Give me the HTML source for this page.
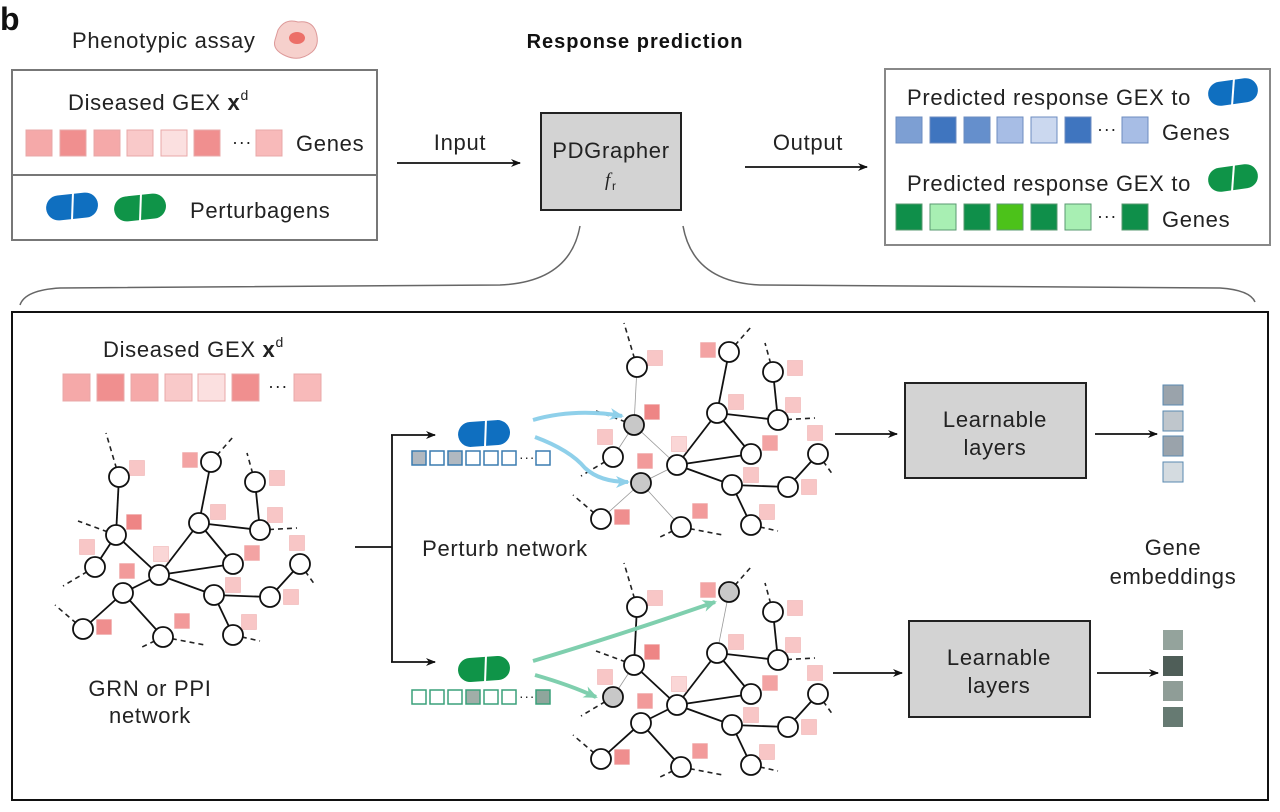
<!DOCTYPE html>
<html><head><meta charset="utf-8"><style>
html,body{margin:0;padding:0;background:#fff;}
svg{display:block;font-family:"Liberation Sans",sans-serif;}
text{letter-spacing:0.7px;}
</style></head><body>
<svg id="s" width="1280" height="812" viewBox="0 0 1280 812" xmlns="http://www.w3.org/2000/svg">
<defs>
<marker id="ah" markerWidth="10" markerHeight="10" refX="9" refY="5" orient="auto" markerUnits="userSpaceOnUse"><path d="M0,1 L10,5 L0,9 L3,5Z" fill="#111"/></marker>
<marker id="bh" markerWidth="14" markerHeight="12" refX="12" refY="6" orient="auto" markerUnits="userSpaceOnUse"><path d="M0,0 L14,6 L0,12 L4,6Z" fill="#8fd0ea"/></marker>
<marker id="gh" markerWidth="14" markerHeight="12" refX="12" refY="6" orient="auto" markerUnits="userSpaceOnUse"><path d="M0,0 L14,6 L0,12 L4,6Z" fill="#7fcfae"/></marker>
</defs>
<text x="0" y="30" font-size="32" font-weight="bold" fill="#111">b</text>
<text x="72" y="48" font-size="22" fill="#222">Phenotypic assay</text>
<path d="M278,30 Q285,18 298,22 Q312,20 316,32 Q320,45 312,52 Q300,62 286,56 Q272,50 275,40Z" fill="#f6d0cc" stroke="#d99" stroke-width="1"/>
<ellipse cx="297" cy="38" rx="8" ry="6" fill="#ec6f68"/>
<text x="635" y="48" font-size="20" font-weight="bold" text-anchor="middle" fill="#111" style="letter-spacing:1px">Response prediction</text>

<rect x="12" y="70" width="365" height="170" fill="none" stroke="#777" stroke-width="2"/>
<line x1="12" y1="175" x2="377" y2="175" stroke="#777" stroke-width="2"/>
<text x="68" y="110" font-size="22" fill="#222">Diseased GEX <tspan font-weight="bold">x</tspan><tspan font-size="14" dy="-10">d</tspan></text>
<g stroke="#e8a8a8" stroke-width="1">
<rect x="26" y="130" width="26" height="26" fill="#f5a9a9"/><rect x="60" y="130" width="26" height="26" fill="#f08f8f"/><rect x="94" y="130" width="26" height="26" fill="#f5a9a9"/><rect x="127" y="130" width="26" height="26" fill="#f9c9c9"/><rect x="161" y="130" width="26" height="26" fill="#fbe0e0"/><rect x="194" y="130" width="26" height="26" fill="#f08f8f"/><rect x="256" y="130" width="26" height="26" fill="#f8baba"/></g>
<text x="232" y="148" font-size="18" fill="#222">···</text>
<text x="296" y="151" font-size="22" fill="#222">Genes</text>
<g><rect x="46" y="194" width="52" height="25" rx="12.5" fill="#0f6fc0" transform="rotate(-6 72 206)"/><line x1="73" y1="192" x2="72" y2="220" stroke="#fff" stroke-width="2"/>
<rect x="114" y="195" width="52" height="25" rx="12.5" fill="#0f9448" transform="rotate(-6 140 207)"/><line x1="141" y1="193" x2="140" y2="221" stroke="#fff" stroke-width="2"/></g>
<text x="190" y="218" font-size="22" fill="#222">Perturbagens</text>

<line x1="397" y1="163" x2="520" y2="163" stroke="#111" stroke-width="1.8" marker-end="url(#ah)"/>
<text x="460" y="150" font-size="22" text-anchor="middle" fill="#222">Input</text>
<rect x="541" y="113" width="140" height="97" fill="#d3d3d3" stroke="#222" stroke-width="2"/>
<text x="611" y="158" font-size="22" text-anchor="middle" fill="#222">PDGrapher</text>
<text x="605" y="186" font-size="19" font-style="italic" font-family="Liberation Serif" fill="#222">f</text><text x="612" y="190" font-size="12" fill="#222">r</text>
<line x1="745" y1="167" x2="867" y2="167" stroke="#111" stroke-width="1.8" marker-end="url(#ah)"/>
<text x="808" y="150" font-size="22" text-anchor="middle" fill="#222">Output</text>

<rect x="885" y="69" width="385" height="176" fill="none" stroke="#888" stroke-width="2"/>
<text x="907" y="105" font-size="22" fill="#222">Predicted response GEX to</text>
<rect x="1208" y="80" width="50" height="24" rx="12" fill="#0f6fc0" transform="rotate(-8 1233 92)"/><line x1="1234" y1="78" x2="1232" y2="106" stroke="#fff" stroke-width="2"/>
<g stroke="#6c8cc0" stroke-width="1"><rect x="896" y="117" width="26" height="26" fill="#7d9fd3"/><rect x="930" y="117" width="26" height="26" fill="#3f75bf"/><rect x="964" y="117" width="26" height="26" fill="#658fcc"/><rect x="997" y="117" width="26" height="26" fill="#a7bde5"/><rect x="1031" y="117" width="26" height="26" fill="#cbd8ef"/><rect x="1065" y="117" width="26" height="26" fill="#3f75bf"/><rect x="1122" y="117" width="26" height="26" fill="#a7bde5"/></g>
<text x="1097" y="135" font-size="18" fill="#222">···</text>
<text x="1162" y="140" font-size="22" fill="#222">Genes</text>
<text x="907" y="191" font-size="22" fill="#222">Predicted response GEX to</text>
<rect x="1208" y="166" width="50" height="24" rx="12" fill="#0f9448" transform="rotate(-8 1233 178)"/><line x1="1234" y1="164" x2="1232" y2="192" stroke="#fff" stroke-width="2"/>
<g stroke="#5a9a70" stroke-width="1"><rect x="896" y="204" width="26" height="26" fill="#0f8f4a"/><rect x="930" y="204" width="26" height="26" fill="#a8efb3"/><rect x="964" y="204" width="26" height="26" fill="#0f8f4a"/><rect x="997" y="204" width="26" height="26" fill="#4cc21a"/><rect x="1031" y="204" width="26" height="26" fill="#0f8f4a"/><rect x="1065" y="204" width="26" height="26" fill="#a8efb3"/><rect x="1122" y="204" width="26" height="26" fill="#0f8f4a"/></g>
<text x="1097" y="222" font-size="18" fill="#222">···</text>
<text x="1162" y="227" font-size="22" fill="#222">Genes</text>

<path d="M580,226 Q570,282 500,285 L60,288 Q25,290 20,305" fill="none" stroke="#666" stroke-width="1.5"/>
<path d="M683,226 Q693,282 760,285 L1220,288 Q1250,290 1255,302" fill="none" stroke="#666" stroke-width="1.5"/>

<rect x="12" y="312" width="1256" height="488" fill="none" stroke="#111" stroke-width="2"/>
<text x="103" y="357" font-size="22" fill="#222">Diseased GEX <tspan font-weight="bold">x</tspan><tspan font-size="14" dy="-10">d</tspan></text>
<g stroke="#e8a8a8" stroke-width="1">
<rect x="63" y="374" width="27" height="27" fill="#f5a9a9"/><rect x="97" y="374" width="27" height="27" fill="#f08f8f"/><rect x="131" y="374" width="27" height="27" fill="#f5a9a9"/><rect x="165" y="374" width="27" height="27" fill="#f9c9c9"/><rect x="198" y="374" width="27" height="27" fill="#fbe0e0"/><rect x="232" y="374" width="27" height="27" fill="#f08f8f"/><rect x="294" y="374" width="27" height="27" fill="#f8baba"/></g>
<text x="268" y="392" font-size="18" fill="#222">···</text>
<g id="nets"></g>
<text x="150" y="696" font-size="22" text-anchor="middle" fill="#222">GRN or PPI</text>
<text x="150" y="723" font-size="22" text-anchor="middle" fill="#222">network</text>
<polyline points="355,547 392,547" fill="none" stroke="#111" stroke-width="1.8"/>
<line x1="392" y1="435" x2="392" y2="662" stroke="#111" stroke-width="1.8"/>
<line x1="391" y1="435" x2="435" y2="435" stroke="#111" stroke-width="1.8" marker-end="url(#ah)"/>
<line x1="391" y1="662" x2="435" y2="662" stroke="#111" stroke-width="1.8" marker-end="url(#ah)"/>
<text x="505" y="556" font-size="22" text-anchor="middle" fill="#222">Perturb network</text>

<rect x="458" y="421" width="52" height="25" rx="12.5" fill="#0f6fc0" transform="rotate(-4 484 433)"/><line x1="486" y1="419" x2="485" y2="447" stroke="#fff" stroke-width="2"/>
<rect x="458" y="657" width="52" height="24" rx="12" fill="#0f9448" transform="rotate(-4 484 669)"/><line x1="486" y1="655" x2="485" y2="683" stroke="#fff" stroke-width="2"/>
<g id="vecs"></g>
<path d="M533,420 Q575,408 622,416" fill="none" stroke="#8fd0ea" stroke-width="4" marker-end="url(#bh)"/>
<path d="M535,437 Q570,450 585,468 Q600,482 628,482" fill="none" stroke="#8fd0ea" stroke-width="4" marker-end="url(#bh)"/>
<path d="M533,661 Q620,635 715,602" fill="none" stroke="#7fcfae" stroke-width="4" marker-end="url(#gh)"/>
<path d="M535,675 Q570,685 596,697" fill="none" stroke="#7fcfae" stroke-width="4" marker-end="url(#gh)"/>

<line x1="835" y1="434" x2="897" y2="434" stroke="#111" stroke-width="1.8" marker-end="url(#ah)"/>
<rect x="905" y="383" width="181" height="95" fill="#d3d3d3" stroke="#222" stroke-width="2"/>
<text x="995" y="427" font-size="22" text-anchor="middle" fill="#222">Learnable</text>
<text x="995" y="455" font-size="22" text-anchor="middle" fill="#222">layers</text>
<line x1="1095" y1="434" x2="1157" y2="434" stroke="#111" stroke-width="1.8" marker-end="url(#ah)"/>
<line x1="833" y1="673" x2="902" y2="673" stroke="#111" stroke-width="1.8" marker-end="url(#ah)"/>
<rect x="909" y="621" width="181" height="96" fill="#d3d3d3" stroke="#222" stroke-width="2"/>
<text x="999" y="665" font-size="22" text-anchor="middle" fill="#222">Learnable</text>
<text x="999" y="693" font-size="22" text-anchor="middle" fill="#222">layers</text>
<line x1="1097" y1="673" x2="1158" y2="673" stroke="#111" stroke-width="1.8" marker-end="url(#ah)"/>
<g stroke="#5a8ab0" stroke-width="1"><rect x="1163" y="385" width="20" height="20" fill="#9aa3ab"/><rect x="1163" y="411" width="20" height="20" fill="#bfc6cc"/><rect x="1163" y="436" width="20" height="20" fill="#9aa3ab"/><rect x="1163" y="462" width="20" height="20" fill="#d4dbe0"/></g>
<g><rect x="1163" y="630" width="20" height="20" fill="#94a39c"/><rect x="1163" y="656" width="20" height="20" fill="#4f5e58"/><rect x="1163" y="681" width="20" height="20" fill="#8f9d97"/><rect x="1163" y="707" width="20" height="20" fill="#667a72"/></g>
<text x="1173" y="555" font-size="22" text-anchor="middle" fill="#222">Gene</text>
<text x="1173" y="584" font-size="22" text-anchor="middle" fill="#222">embeddings</text>
</svg>
<script>
(function(){
var NS="http://www.w3.org/2000/svg";
var N={A:[119,477],B:[211,462],C:[255,482],D:[116,535],E:[199,523],F:[260,530],G:[95,567],H:[159,575],I:[233,564],J:[300,564],K:[123,593],L:[214,595],M:[270,597],N:[83,629],O:[163,637],P:[233,635]};
var E=[["A","D"],["D","G"],["D","H"],["B","E"],["E","H"],["E","F"],["C","F"],["E","I"],["H","I"],["H","K"],["K","N"],["K","O"],["H","L"],["L","M"],["M","J"],["L","P"]];
var DS=[["A",106,433],["B",233,437],["C",247,453],["D",78,521],["F",297,528],["G",63,586],["J",315,585],["N",55,605],["O",140,648],["O",205,645],["P",260,641]];
var SQ=[[137,468,"#f8c6c6"],[190,460,"#f3a3a3"],[277,478,"#f8c6c6"],[134,522,"#ee8585"],[218,512,"#f8c6c6"],[275,515,"#f8c6c6"],[87,547,"#f8c6c6"],[161,554,"#fad6d6"],[127,571,"#f29a9a"],[252,553,"#f3a3a3"],[233,585,"#f8c6c6"],[297,543,"#f8c6c6"],[291,597,"#f8c6c6"],[104,627,"#ef8e8e"],[182,621,"#f29a9a"],[249,622,"#f8c6c6"]];
var g=document.getElementById("nets");
function el(t,a){var e=document.createElementNS(NS,t);for(var k in a)e.setAttribute(k,a[k]);g.appendChild(e);return e;}
function net(dx,dy,gray,thin){
 DS.forEach(function(d){var n=N[d[0]];el("line",{x1:n[0]+dx,y1:n[1]+dy,x2:d[1]+dx,y2:d[2]+dy,stroke:"#222","stroke-width":1.6,"stroke-dasharray":"5,4"});});
 E.forEach(function(e){var a=N[e[0]],b=N[e[1]];var t=thin.indexOf(e[0])>=0||thin.indexOf(e[1])>=0;
  el("line",{x1:a[0]+dx,y1:a[1]+dy,x2:b[0]+dx,y2:b[1]+dy,stroke:t?"#999":"#111","stroke-width":t?0.8:1.8});});
 SQ.forEach(function(s){el("rect",{x:s[0]-7.5+dx,y:s[1]-7.5+dy,width:15,height:15,fill:s[2],stroke:"#eaa","stroke-width":0.5});});
 for(var k in N){var n=N[k];el("circle",{cx:n[0]+dx,cy:n[1]+dy,r:10,fill:gray.indexOf(k)>=0?"#c8c8c8":"#fff",stroke:"#111","stroke-width":1.8});}
}
net(0,0,[],[]);
net(518,-110,["D","K"],["D","K"]);
net(518,130,["B","G"],["B","G"]);
var v=document.getElementById("vecs");
function vec(y,fills,stroke){for(var i=0;i<6;i++){var r=document.createElementNS(NS,"rect");r.setAttribute("x",412+i*18);r.setAttribute("y",y);r.setAttribute("width",14);r.setAttribute("height",14);r.setAttribute("fill",fills[i]);r.setAttribute("stroke",stroke);r.setAttribute("stroke-width",1.5);v.appendChild(r);}
 var r=document.createElementNS(NS,"rect");r.setAttribute("x",536);r.setAttribute("y",y);r.setAttribute("width",14);r.setAttribute("height",14);r.setAttribute("fill",fills[6]);r.setAttribute("stroke",stroke);r.setAttribute("stroke-width",1.5);v.appendChild(r);
 var t=document.createElementNS(NS,"text");t.setAttribute("x",519);t.setAttribute("y",y+11);t.setAttribute("font-size","14");t.setAttribute("fill","#222");t.textContent="···";v.appendChild(t);}
vec(451,["#b0b8c0","#fff","#b0b8c0","#fff","#fff","#fff","#fff"],"#3a7cb0");
vec(690,["#fff","#fff","#fff","#a0aea8","#fff","#fff","#8fa69c"],"#3aa07a");
})();
</script>
</body></html>
